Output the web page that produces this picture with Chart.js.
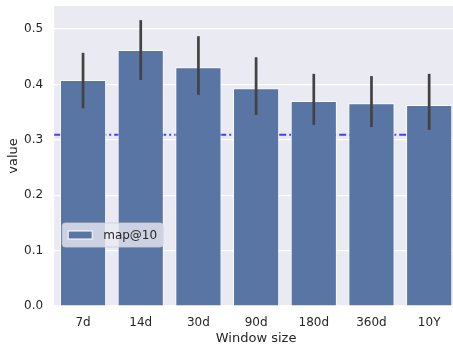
<!DOCTYPE html>
<html>
<head>
<meta charset="utf-8">
<script src="https://cdn.jsdelivr.net/npm/chart.js@4.4.0/dist/chart.umd.min.js"></script>
<style>
    html, body { margin: 0; padding: 0; background: #fff; overflow: hidden; }
    #wrap { width: 453px; height: 346px; overflow: hidden; }
</style>
</head>
<body>
<div id="wrap"><canvas id="chart" width="458" height="346"></canvas></div>
<script>
// Window sizes and map@10 means with CI bounds
const windows = ['7d', '14d', '30d', '90d', '180d', '360d', '10Y'];
const mapValues = [0.408, 0.462, 0.431, 0.393, 0.370, 0.366, 0.363];
const ciLow = [0.357, 0.408, 0.381, 0.345, 0.327, 0.323, 0.318];
const ciHigh = [0.457, 0.516, 0.487, 0.449, 0.419, 0.415, 0.419];
const baseline = 0.309;
const yTicks = [0.0, 0.1, 0.2, 0.3, 0.4, 0.5];
const legendLabel = 'map@10';

const FONT = '"DejaVu Sans", sans-serif';
const TEXT = '#262626';
const BAR = '#5975a4';

// dashed reference line, drawn behind the bars
const baselinePlugin = {
    id: 'baseline',
    beforeDatasetsDraw(chart) {
        const { ctx, chartArea, scales } = chart;
        const y = scales.y.getPixelForValue(baseline);
        ctx.save();
        ctx.strokeStyle = 'rgba(20, 20, 255, 0.8)';
        ctx.lineWidth = 2;
        ctx.setLineDash([7, 3, 2, 3]);
        ctx.beginPath();
        ctx.moveTo(chartArea.left, y);
        ctx.lineTo(chartArea.right, y);
        ctx.stroke();
        ctx.restore();
    }
};

// error bars + legend box
const errorBarsPlugin = {
    id: 'errorBars',
    afterDatasetsDraw(chart) {
        const { ctx, scales } = chart;
        ctx.save();
        ctx.strokeStyle = '#424242';
        ctx.lineWidth = 2.7;
        windows.forEach((w, i) => {
            const x = scales.x.getPixelForValue(i);
            ctx.beginPath();
            ctx.moveTo(x, scales.y.getPixelForValue(ciLow[i]));
            ctx.lineTo(x, scales.y.getPixelForValue(ciHigh[i]));
            ctx.stroke();
        });
        ctx.restore();
    },
    afterDraw(chart) {
        const { ctx, chartArea } = chart;
        const x = chartArea.left + 8, y = chartArea.top + 217;
        const w = 101, h = 24, r = 3;
        ctx.save();
        ctx.beginPath();
        ctx.roundRect(x, y, w, h, r);
        ctx.fillStyle = 'rgba(234, 234, 242, 0.8)';
        ctx.fill();
        ctx.strokeStyle = 'rgba(204, 204, 214, 0.8)';
        ctx.lineWidth = 1;
        ctx.stroke();
        ctx.fillStyle = BAR;
        ctx.fillRect(x + 6, y + 8, 24, 8);
        ctx.strokeStyle = '#ffffff';
        ctx.strokeRect(x + 6, y + 8, 24, 8);
        ctx.fillStyle = TEXT;
        ctx.font = '12px ' + FONT;
        ctx.textBaseline = 'middle';
        ctx.fillText(legendLabel, x + 41, y + h / 2 + 0.5);
        ctx.restore();
    }
};

new Chart(document.getElementById('chart'), {
    type: 'bar',
    data: {
        labels: windows,
        datasets: [{
            label: legendLabel,
            data: mapValues,
            backgroundColor: BAR,
            borderColor: 'rgba(255, 255, 255, 0.85)',
            borderWidth: 1,
            categoryPercentage: 0.8,
            barPercentage: 1.0
        }]
    },
    options: {
        responsive: false,
        animation: false,
        layout: { padding: { top: 6, right: 0, left: 0, bottom: 0 } },
        plugins: {
            legend: { display: false },
            tooltip: { enabled: false }
        },
        scales: {
            x: {
                grid: { display: false, drawTicks: false },
                border: { display: false },
                ticks: { color: TEXT, font: { family: FONT, size: 12 }, padding: 10, maxRotation: 0 },
                title: { display: true, text: 'Window size', color: TEXT, font: { family: FONT, size: 13 }, padding: { top: 3, bottom: 0 } },
                afterFit(scale) {
                    scale.height = 40;
                    scale.paddingLeft = 0;
                    scale.paddingRight = 0;
                }
            },
            y: {
                min: 0,
                max: 0.5415,
                grid: { color: '#ffffff', lineWidth: 1.2, drawTicks: false },
                border: { display: false },
                ticks: {
                    color: TEXT,
                    font: { family: FONT, size: 12 },
                    padding: 11,
                    callback: v => v.toFixed(1)
                },
                afterBuildTicks(scale) { scale.ticks = yTicks.map(v => ({ value: v })); },
                title: { display: true, text: 'value', color: TEXT, font: { family: FONT, size: 13 }, padding: { top: 6, bottom: 0 } },
                afterFit(scale) {
                    // fixed axis width, and no extra room kept above the plot for tick labels
                    scale.width = 54.2;
                    scale.paddingTop = 0;
                    scale.paddingBottom = 0;
                }
            }
        }
    },
    plugins: [
        {
            id: 'plotBg',
            beforeDraw(chart) {
                const { ctx, chartArea: a } = chart;
                ctx.save();
                ctx.fillStyle = '#eaeaf2';
                ctx.fillRect(a.left, a.top, a.right - a.left, a.bottom - a.top);
                ctx.restore();
            }
        },
        baselinePlugin,
        errorBarsPlugin
    ]
});
</script>
</body>
</html>
